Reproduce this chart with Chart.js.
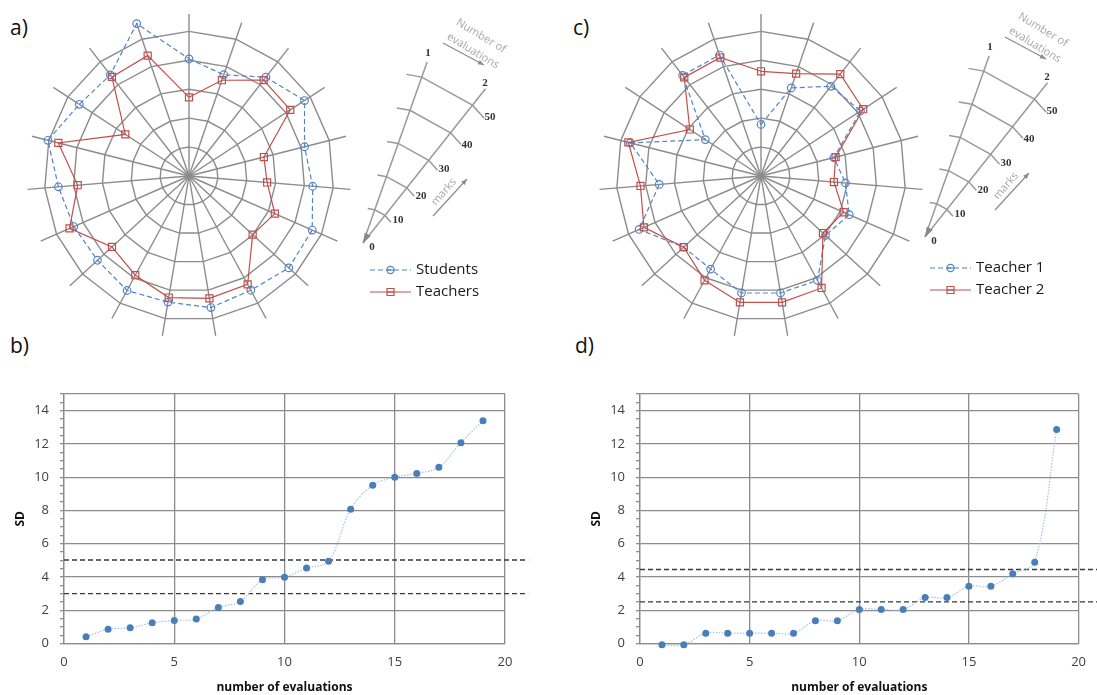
<!DOCTYPE html>
<html>
<head>
<meta charset="utf-8">
<script src="https://cdn.jsdelivr.net/npm/chart.js@4.4.0/dist/chart.umd.min.js"></script>
<style>
  html, body { margin: 0; padding: 0; background: #fff; }
  body { width: 1097px; height: 695px; position: relative; overflow: hidden; font-family: 'Open Sans', sans-serif; }
  canvas { position: absolute; }
  .panel { position: absolute; font-size: 21px; color: #111; line-height: 24px; }
</style>
</head>
<body>
<div class="panel" style="left:10px;top:15px">a)</div>
<div class="panel" style="left:10px;top:333px">b)</div>
<div class="panel" style="left:573px;top:15px">c)</div>
<div class="panel" style="left:575px;top:333px">d)</div>

<canvas id="radarA" width="545" height="345" style="left:0;top:0"></canvas>
<canvas id="radarC" width="542" height="345" style="left:555px;top:0"></canvas>
<canvas id="sdB" width="550" height="365" style="left:0;top:330px"></canvas>
<canvas id="sdD" width="537" height="365" style="left:560px;top:330px"></canvas>

<script>
// spokes of the radar = evaluated items, clockwise from the top
const SPOKE_LABELS = ['1', '2', '3', '4', '5', '6', '7', '8', '9', '10', '11', '12', '13', '14', '15', '16', '17', '18', '19'];

// a) students vs teachers (marks)
const studentsMarks = [40.5, 37, 43.3, 47.7, 41.2, 42.9, 46.5, 46.9, 44.9, 46.1, 44.2, 45, 43, 43.5, 45.3, 50.3, 45.3, 44.3, 55.7];
const teachersMarks = [27.2, 35, 42, 41.8, 26.7, 27.1, 32.4, 29.9, 42.6, 42.9, 42.6, 39, 36.2, 45.1, 38.6, 46.6, 26.3, 43.4, 44];

// c) teacher 1 vs teacher 2 (marks)
const teacher1Marks = [17.8, 32.2, 39.3, 41.1, 26, 29.3, 33.3, 30.3, 41, 41, 41, 36.6, 36.3, 46, 35.3, 46.6, 23, 44.1, 44.2];
const teacher2Marks = [36.2, 37.4, 44.6, 42.2, 26.6, 25.3, 31.2, 29.1, 44, 44.3, 44.3, 41, 36.3, 44.2, 41.8, 47.3, 29.4, 43.2, 43.3];

// b) / d) standard deviation vs number of evaluations
const EVAL_COUNTS = [1, 2, 3, 4, 5, 6, 7, 8, 9, 10, 11, 12, 13, 14, 15, 16, 17, 18, 19];
const sdStudents = [0.4, 0.86, 0.94, 1.24, 1.39, 1.47, 2.17, 2.53, 3.84, 3.98, 4.54, 4.94, 8.07, 9.52, 10.0, 10.22, 10.6, 12.07, 13.39];
const sdTeachers = [-0.08, -0.08, 0.62, 0.62, 0.62, 0.62, 0.62, 1.37, 1.37, 2.05, 2.05, 2.05, 2.76, 2.76, 3.44, 3.44, 4.19, 4.88, 12.87];
const thresholdsB = [5.02, 3];
const thresholdsD = [4.45, 2.5];

// key (wedge) scale
const KEY_RINGS = [10, 20, 30, 40, 50];

const COLORS = {
  grid: '#8c8c8c',
  blue: '#5284c8',
  red: '#c0504d',
  dot: '#4a7ebb',
  dotLine: '#a3c0e6',
  dash: '#3a3a3a',
  tick: '#404040',
  keyLine: '#9a9a9a',
  keyText: '#a8a8a8',
};

Chart.defaults.font.family = "'Open Sans', sans-serif";
Chart.defaults.color = COLORS.tick;

const DEG = Math.PI / 180;
const polar = (ox, oy, r, deg) => [ox + r * Math.sin(deg * DEG), oy - r * Math.cos(deg * DEG)];

function rotatedText(ctx, text, x, y, deg) {
  ctx.save();
  ctx.translate(x, y);
  ctx.rotate(deg * DEG);
  ctx.fillText(text, 0, 0);
  ctx.restore();
}

function arrow(ctx, x1, y1, x2, y2) {
  const a = Math.atan2(y2 - y1, x2 - x1);
  ctx.beginPath();
  ctx.moveTo(x1, y1);
  ctx.lineTo(x2, y2);
  ctx.stroke();
  ctx.beginPath();
  ctx.moveTo(x2, y2);
  ctx.lineTo(x2 - 6 * Math.cos(a) + 2.5 * Math.sin(a), y2 - 6 * Math.sin(a) - 2.5 * Math.cos(a));
  ctx.lineTo(x2 - 6 * Math.cos(a) - 2.5 * Math.sin(a), y2 - 6 * Math.sin(a) + 2.5 * Math.cos(a));
  ctx.closePath();
  ctx.fill();
}

// Wedge explaining the radar: two spokes (number of evaluations) and rings (marks)
function drawKey(ctx, ox, oy) {
  const step = 360 / SPOKE_LABELS.length;
  const a1 = 19.5, a2 = a1 + step;
  const pxPerMark = 3.52;
  ctx.save();
  ctx.strokeStyle = COLORS.keyLine;
  ctx.fillStyle = '#8a8a8a';
  ctx.lineWidth = 1.5;

  [[a1, 192], [a2, 197]].forEach(([a, len]) => {
    const [x, y] = polar(ox, oy, len, a);
    ctx.beginPath();
    ctx.moveTo(ox, oy);
    ctx.lineTo(x, y);
    ctx.stroke();
  });

  KEY_RINGS.forEach((v) => {
    const r = v * pxPerMark;
    const p1 = polar(ox, oy, r, a1);
    const p2 = polar(ox, oy, r, a2);
    const m0 = (a1 - step / 2) * DEG;
    const m3 = (a2 + step / 2) * DEG;
    const eL = 5 + 0.06 * r, eR = 7 + 0.06 * r;
    ctx.beginPath();
    ctx.moveTo(p1[0] - eL * Math.cos(m0), p1[1] - eL * Math.sin(m0));
    ctx.lineTo(p1[0], p1[1]);
    ctx.lineTo(p2[0], p2[1]);
    ctx.lineTo(p2[0] + eR * Math.cos(m3), p2[1] + eR * Math.sin(m3));
    ctx.stroke();
  });

  // arrow head at the centre
  const b = (a1 + a2) / 2;
  const [bx, by] = polar(ox, oy, 10, b);
  const px = Math.cos(b * DEG) * 3.5, py = Math.sin(b * DEG) * 3.5;
  ctx.beginPath();
  ctx.moveTo(ox, oy);
  ctx.lineTo(bx + px, by + py);
  ctx.lineTo(bx - px, by - py);
  ctx.closePath();
  ctx.fill();

  // numbers
  ctx.fillStyle = '#333';
  ctx.font = 'bold 11px "Liberation Serif", serif';
  ctx.textAlign = 'center';
  ctx.textBaseline = 'middle';
  ctx.fillText('1', ox + 65, oy - 190);
  ctx.fillText('2', ox + 122, oy - 160);
  ctx.fillText('0', ox + 9, oy + 4);
  const ringLabelPos = [[35, -23], [58, -47], [81, -74], [104, -98], [127, -126]];
  KEY_RINGS.forEach((v, i) => ctx.fillText(String(v), ox + ringLabelPos[i][0], oy + ringLabelPos[i][1]));

  // captions with arrows
  ctx.fillStyle = COLORS.keyText;
  ctx.font = '11px "Open Sans", sans-serif';
  rotatedText(ctx, 'Number of', ox + 118, oy - 207, 31);
  rotatedText(ctx, 'evaluations', ox + 110, oy - 192, 31);
  rotatedText(ctx, 'marks', ox + 81, oy - 51, -49);
  ctx.strokeStyle = '#8c8c8c';
  ctx.fillStyle = '#8c8c8c';
  ctx.lineWidth = 1.2;
  arrow(ctx, ox + 80, oy - 200, ox + 121, oy - 178);
  arrow(ctx, ox + 70, oy - 27, ox + 104, oy - 64);
  ctx.restore();
}

function drawLegend(chart, x, y) {
  const ctx = chart.ctx;
  const sets = chart.data.datasets.slice().sort((p, q) => p.legendIndex - q.legendIndex);
  ctx.save();
  sets.forEach((ds, i) => {
    const ly = y + i * 22;
    ctx.strokeStyle = ds.borderColor;
    ctx.lineWidth = 1.2;
    ctx.setLineDash(ds.borderDash || []);
    ctx.beginPath();
    ctx.moveTo(x, ly);
    ctx.lineTo(x + 41, ly);
    ctx.stroke();
    ctx.setLineDash([]);
    ctx.beginPath();
    if (ds.pointStyle === 'rect') {
      ctx.rect(x + 20.5 - 3.5, ly - 3.5, 7, 7);
    } else {
      ctx.arc(x + 20.5, ly, 3.6, 0, Math.PI * 2);
    }
    ctx.stroke();
    ctx.beginPath();
    ctx.moveTo(x + 17, ly);
    ctx.lineTo(x + 24, ly);
    ctx.stroke();
    ctx.fillStyle = '#1a1a1a';
    ctx.font = '15px "Open Sans", sans-serif';
    ctx.textAlign = 'left';
    ctx.textBaseline = 'middle';
    ctx.fillText(ds.label, x + 46, ly);
  });
  ctx.restore();
}

const fanKeyPlugin = {
  id: 'fanKey',
  afterDraw(chart, args, opts) {
    drawKey(chart.ctx, opts.apex[0], opts.apex[1]);
    drawLegend(chart, opts.legend[0], opts.legend[1]);
  },
};

function radarDataset(label, data, color, style, dashed, legendIndex) {
  return {
    label,
    data,
    legendIndex,
    order: legendIndex === 0 ? 1 : 0,
    borderColor: color,
    borderWidth: 1.2,
    borderDash: dashed ? [5, 3] : [],
    fill: false,
    pointStyle: style,
    pointRadius: style === 'rect' ? 5 : 3.8,
    pointBorderColor: color,
    pointBackgroundColor: 'rgba(0,0,0,0)',
    pointBorderWidth: 1.2,
  };
}

function renderRadar(id, sets, padding, keyOpts) {
  new Chart(document.getElementById(id), {
    type: 'radar',
    data: { labels: SPOKE_LABELS, datasets: sets },
    options: {
      responsive: false,
      animation: false,
      layout: { padding },
      plugins: { legend: { display: false }, tooltip: { enabled: false }, fanKey: keyOpts },
      scales: {
        r: {
          min: 0,
          max: 56,
          ticks: { display: false, stepSize: 10, includeBounds: false },
          pointLabels: { display: false },
          grid: { color: COLORS.grid, lineWidth: 1.4 },
          angleLines: { color: COLORS.grid, lineWidth: 1.4 },
        },
      },
    },
    plugins: [fanKeyPlugin],
  });
}

function renderSdChart(id, values, thresholds, yWidth, rightPad, titlePad) {
  const datasets = [{
    data: EVAL_COUNTS.map((x, i) => ({ x, y: values[i] })),
    borderColor: COLORS.dotLine,
    borderWidth: 1.2,
    borderDash: [1.5, 1.5],
    tension: 0.35,
    pointRadius: 3.5,
    pointBackgroundColor: COLORS.dot,
    pointBorderColor: COLORS.dot,
    pointBorderWidth: 0,
    clip: 6,
    order: 0,
  }];
  thresholds.forEach((t) => {
    datasets.push({
      data: [{ x: 0, y: t }, { x: 21.05, y: t }],
      borderColor: COLORS.dash,
      borderWidth: 1.4,
      borderDash: [5, 3],
      pointRadius: 0,
      clip: false,
      order: 1,
    });
  });

  new Chart(document.getElementById(id), {
    type: 'line',
    data: { datasets },
    options: {
      responsive: false,
      animation: false,
      layout: { padding: { left: 0, top: 64, right: rightPad, bottom: 0 } },
      plugins: { legend: { display: false }, tooltip: { enabled: false } },
      scales: {
        x: {
          type: 'linear',
          min: 0,
          max: 20,
          ticks: { stepSize: 5, padding: 11, font: { size: 13 }, color: COLORS.tick },
          grid: { color: COLORS.grid, lineWidth: 1.3, drawTicks: false },
          border: { color: COLORS.grid, width: 1.3 },
          title: { display: true, text: 'number of evaluations', font: { size: 12, weight: 'bold' }, color: '#111', padding: { top: 0, bottom: 0 } },
          afterFit: (s) => { s.height = 51.5; },
        },
        y: {
          min: 0,
          max: 15,
          ticks: {
            stepSize: 0.5,
            autoSkip: false,
            padding: 11,
            font: { size: 13 },
            color: COLORS.tick,
            callback: (v) => (v % 2 === 0 ? String(v) : ''),
          },
          grid: {
            color: (c) => (c.tick && (c.tick.value % 2 === 0 || c.tick.value === 15) ? COLORS.grid : 'rgba(0,0,0,0)'),
            tickColor: COLORS.grid,
            tickLength: 4,
            lineWidth: 1.3,
          },
          border: { color: COLORS.grid, width: 1.3 },
          title: { display: true, text: 'SD', font: { size: 12, weight: 'bold' }, color: '#111', padding: { top: titlePad, bottom: 0 } },
          afterFit: (s) => { s.width = yWidth; },
        },
      },
    },
  });
}

renderRadar('radarA', [
  radarDataset('Students', studentsMarks, COLORS.blue, 'circle', true, 0),
  radarDataset('Teachers', teachersMarks, COLORS.red, 'rect', false, 1),
], { left: 27, top: 14, right: 194, bottom: 7 }, { apex: [363, 243], legend: [370, 270] });

renderRadar('radarC', [
  radarDataset('Teacher 1', teacher1Marks, COLORS.blue, 'circle', true, 0),
  radarDataset('Teacher 2', teacher2Marks, COLORS.red, 'rect', false, 1),
], { left: 44, top: 14, right: 174, bottom: 7 }, { apex: [370, 237], legend: [375, 268] });

renderSdChart('sdB', sdStudents, thresholdsB, 64, 45, 13);
renderSdChart('sdD', sdTeachers, thresholdsD, 80, 17, 29);
</script>
</body>
</html>
